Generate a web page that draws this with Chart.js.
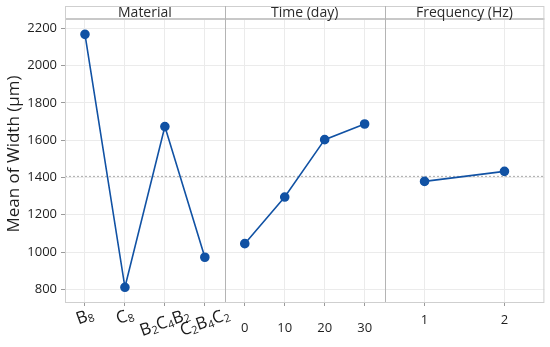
<!DOCTYPE html>
<html>
<head>
<meta charset="utf-8">
<title>Main effects plot for Mean of Width</title>
<script src="https://cdn.jsdelivr.net/npm/chart.js@4.4.1/dist/chart.umd.min.js"></script>
<style>
  html, body { margin: 0; padding: 0; background: #fff; }
</style>
</head>
<body>
<canvas id="meChart" width="550" height="347"></canvas>
<script>
// data
const materialLabels = ['B8', 'C8', 'B2C4B2', 'C2B4C2'];
const materialMeans = [2168, 811, 1673, 972];
const timeLabels = ['0', '10', '20', '30'];
const timeMeans = [1045, 1295, 1603, 1687];
const freqLabels = ['1', '2'];
const freqMeans = [1379, 1433];
const panelTitles = ['Material', 'Time (day)', 'Frequency (Hz)'];
const yTicks = [800, 1000, 1200, 1400, 1600, 1800, 2000, 2200];
const grandMean = 1406;

const fontFam = "'Open Sans', 'Noto Sans', sans-serif";
const lineBlue = '#1152a4';
const gridCol = '#ebebeb';
const HEAD = 13; // height of the panel title strip

function fixHeight(scale) {
    scale.height = 45;
    scale.paddingLeft = 0;
    scale.paddingRight = 0;
}

function panelAxis(labels, pad, showTicks) {
    return {
        type: 'category',
        labels: labels,
        position: 'bottom',
        stack: 'panels',
        offset: true,
        grid: { offset: false, color: gridCol, tickLength: 4, tickColor: '#9a9a9a' },
        border: { display: false },
        ticks: {
            display: showTicks,
            padding: pad,
            autoSkip: false,
            maxRotation: 0,
            color: '#1e1e1e',
            font: { family: fontFam, size: 13 }
        },
        afterFit: fixHeight
    };
}

// material names with real subscripts, drawn slanted like the original
function drawMaterialLabel(ctx, text, x, yTop) {
    const parts = text.match(/[A-Z]|\d+/g);
    const big = '17px ' + fontFam;
    const small = '11px ' + fontFam;
    let w = 0;
    parts.forEach(p => {
        ctx.font = /\d/.test(p) ? small : big;
        w += ctx.measureText(p).width;
    });
    const ang = 20 * Math.PI / 180;
    ctx.save();
    ctx.translate(x, yTop + (w / 2) * Math.sin(ang) + 8);
    ctx.rotate(-ang);
    ctx.textAlign = 'left';
    ctx.textBaseline = 'middle';
    ctx.fillStyle = '#1a1a1a';
    let cx = -w / 2;
    parts.forEach(p => {
        const sub = /\d/.test(p);
        ctx.font = sub ? small : big;
        ctx.fillText(p, cx, sub ? 4 : 0);
        cx += ctx.measureText(p).width;
    });
    ctx.restore();
}

const panelPlugin = {
    id: 'panels',
    beforeDatasetsDraw(chart) {
        const { ctx, chartArea: a, scales } = chart;
        const y = scales.y.getPixelForValue(grandMean);
        ctx.save();
        ctx.strokeStyle = '#a9a9a9';
        ctx.lineWidth = 1;
        ctx.setLineDash([2, 2]);
        ctx.beginPath();
        ctx.moveTo(a.left, y);
        ctx.lineTo(a.right, y);
        ctx.stroke();
        ctx.restore();
    },
    afterDraw(chart) {
        const { ctx, chartArea: a, scales } = chart;
        ctx.save();
        // title strip
        ctx.fillStyle = '#fff';
        ctx.fillRect(a.left, a.top, a.right - a.left, HEAD);
        ctx.strokeStyle = '#c8c8c8';
        ctx.lineWidth = 2;
        ctx.beginPath();
        ctx.moveTo(a.left, a.top + HEAD);
        ctx.lineTo(a.right, a.top + HEAD);
        ctx.stroke();

        ctx.fillStyle = '#2a2a2a';
        ctx.font = '14px ' + fontFam;
        ctx.textAlign = 'center';
        ctx.textBaseline = 'middle';
        ['x1', 'x2', 'x3'].forEach((id, i) => {
            const s = scales[id];
            ctx.fillText(panelTitles[i], (s.left + s.right) / 2, a.top + HEAD / 2 + 1);
        });

        // outer frame
        ctx.strokeStyle = '#cfcfcf';
        ctx.lineWidth = 1;
        ctx.strokeRect(a.left + 0.5, a.top + 0.5, a.right - a.left - 1, a.bottom - a.top);

        // separators between panels
        ctx.strokeStyle = '#b4b4b4';
        ['x1', 'x2'].forEach(id => {
            const xr = Math.round(scales[id].right) + 0.5;
            ctx.beginPath();
            ctx.moveTo(xr, a.top);
            ctx.lineTo(xr, a.bottom);
            ctx.stroke();
        });
        ctx.restore();

        const xs = scales.x1;
        materialLabels.forEach((lab, i) => {
            drawMaterialLabel(ctx, lab, xs.getPixelForValue(i), a.bottom + 4);
        });
    }
};

const ctx = document.getElementById('meChart').getContext('2d');

function seriesStyle(values, axisId) {
    return {
        data: values,
        xAxisID: axisId,
        yAxisID: 'y',
        borderColor: lineBlue,
        backgroundColor: lineBlue,
        borderWidth: 1.6,
        pointRadius: 4,
        pointHoverRadius: 4,
        tension: 0,
        fill: false
    };
}

new Chart(ctx, {
    type: 'line',
    data: {
        datasets: [
            seriesStyle(materialMeans, 'x1'),
            seriesStyle(timeMeans, 'x2'),
            seriesStyle(freqMeans, 'x3')
        ]
    },
    options: {
        responsive: false,
        animation: false,
        devicePixelRatio: 1,
        layout: { padding: { left: 0, right: 5, top: 6, bottom: 0 } },
        plugins: {
            legend: { display: false },
            tooltip: { enabled: false }
        },
        scales: {
            x1: panelAxis(materialLabels, 0, false),
            x2: panelAxis(timeLabels, 14, true),
            x3: panelAxis(freqLabels, 6, true),
            y: {
                type: 'linear',
                position: 'left',
                min: 732,
                max: 2320,
                afterBuildTicks: function(scale) {
                    scale.ticks = yTicks.map(v => ({ value: v }));
                },
                afterFit: function(scale) {
                    scale.width = 65;
                    scale.paddingTop = 0;
                    scale.paddingBottom = 0;
                },
                grid: { color: gridCol, tickLength: 4, tickColor: '#9a9a9a' },
                border: { display: false },
                ticks: {
                    padding: 4,
                    color: '#1e1e1e',
                    font: { family: fontFam, size: 13 },
                    callback: function(value) { return String(value); }
                },
                title: {
                    display: true,
                    text: 'Mean of Width (μm)',
                    color: '#1e1e1e',
                    padding: { top: 4, bottom: 0 },
                    font: { family: fontFam, size: 17 }
                }
            }
        }
    },
    plugins: [panelPlugin]
});
</script>
</body>
</html>
